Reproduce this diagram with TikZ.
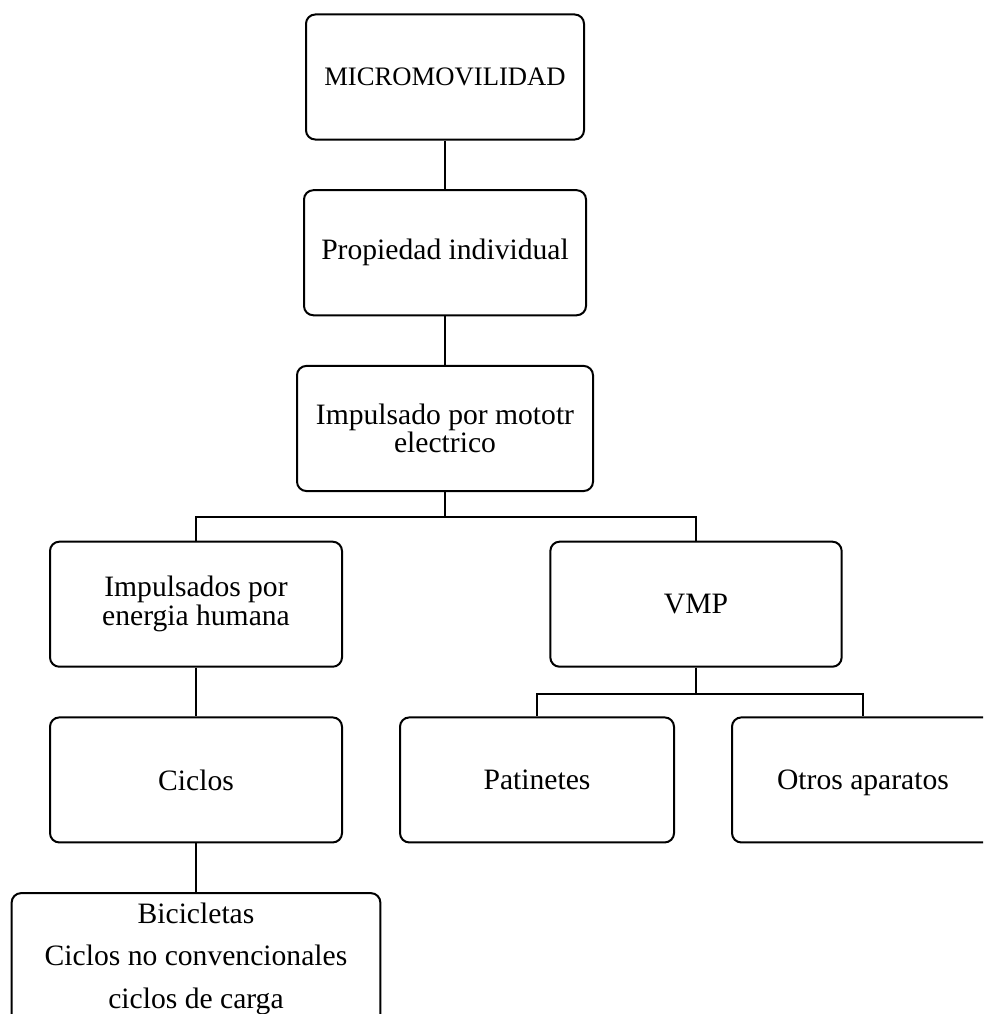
\documentclass[tikz,border=0pt]{standalone}
\usepackage{fontspec}
\setmainfont{Liberation Serif}
\usetikzlibrary{positioning}

\begin{document}
\begin{tikzpicture}[
    node distance=36.5pt,
    box/.style={rectangle, rounded corners=7pt, draw=black, line width=1.5pt, fill=white,
        minimum height=93.8pt, align=center, font=\fontsize{22.2}{21.5}\selectfont},
    link/.style={line width=1.5pt}
]
    \useasboundingbox (0,0) rectangle (737.25pt,-760.5pt);
    \clip (0,0) rectangle (737.25pt,-760.5pt);

    \node[box, minimum width=208.5pt, font=\fontsize{20}{23}\selectfont] (micro) at (333.75pt,-57.75pt) {MICROMOVILIDAD};
    \node[box, minimum width=211.5pt, below=of micro] (propiedad) {Propiedad individual};
    \node[box, minimum width=222pt, below=of propiedad] (motor) {Impulsado por mototr\\electrico};
    \node[box, minimum width=219pt, below=of motor, xshift=-186.75pt] (humana) {Impulsados por\\energia humana};
    \node[box, minimum width=218.5pt, below=of motor, xshift=188.25pt] (vmp) {VMP};
    \node[box, minimum width=219pt, below=of humana] (ciclos) {Ciclos};
    \node[box, minimum width=205.5pt, below=of vmp, xshift=-119.25pt] (patinetes) {Patinetes};
    \node[box, minimum width=196.5pt, text depth=0pt, below=of vmp, xshift=125.25pt] (otros) {Otros aparatos};
    \node[box, minimum width=276.5pt, minimum height=0pt, inner ysep=7pt,
        font=\fontsize{22.2}{32}\selectfont, below=of ciclos] (tipos)
        {Bicicletas\\Ciclos no convencionales\\ciclos de carga};

    \draw[link] (micro) -- (propiedad);
    \draw[link] (propiedad) -- (motor);
    \draw[link] (motor.south) -- ++(0,-19pt) -| (humana.north);
    \draw[link] (motor.south) -- ++(0,-19pt) -| (vmp.north);
    \draw[link] (humana) -- (ciclos);
    \draw[link] (vmp.south) -- ++(0,-19.5pt) -| (patinetes.north);
    \draw[link] (vmp.south) -- ++(0,-19.5pt) -| (otros.north);
    \draw[link] (ciclos) -- (tipos);
\end{tikzpicture}
\end{document}
